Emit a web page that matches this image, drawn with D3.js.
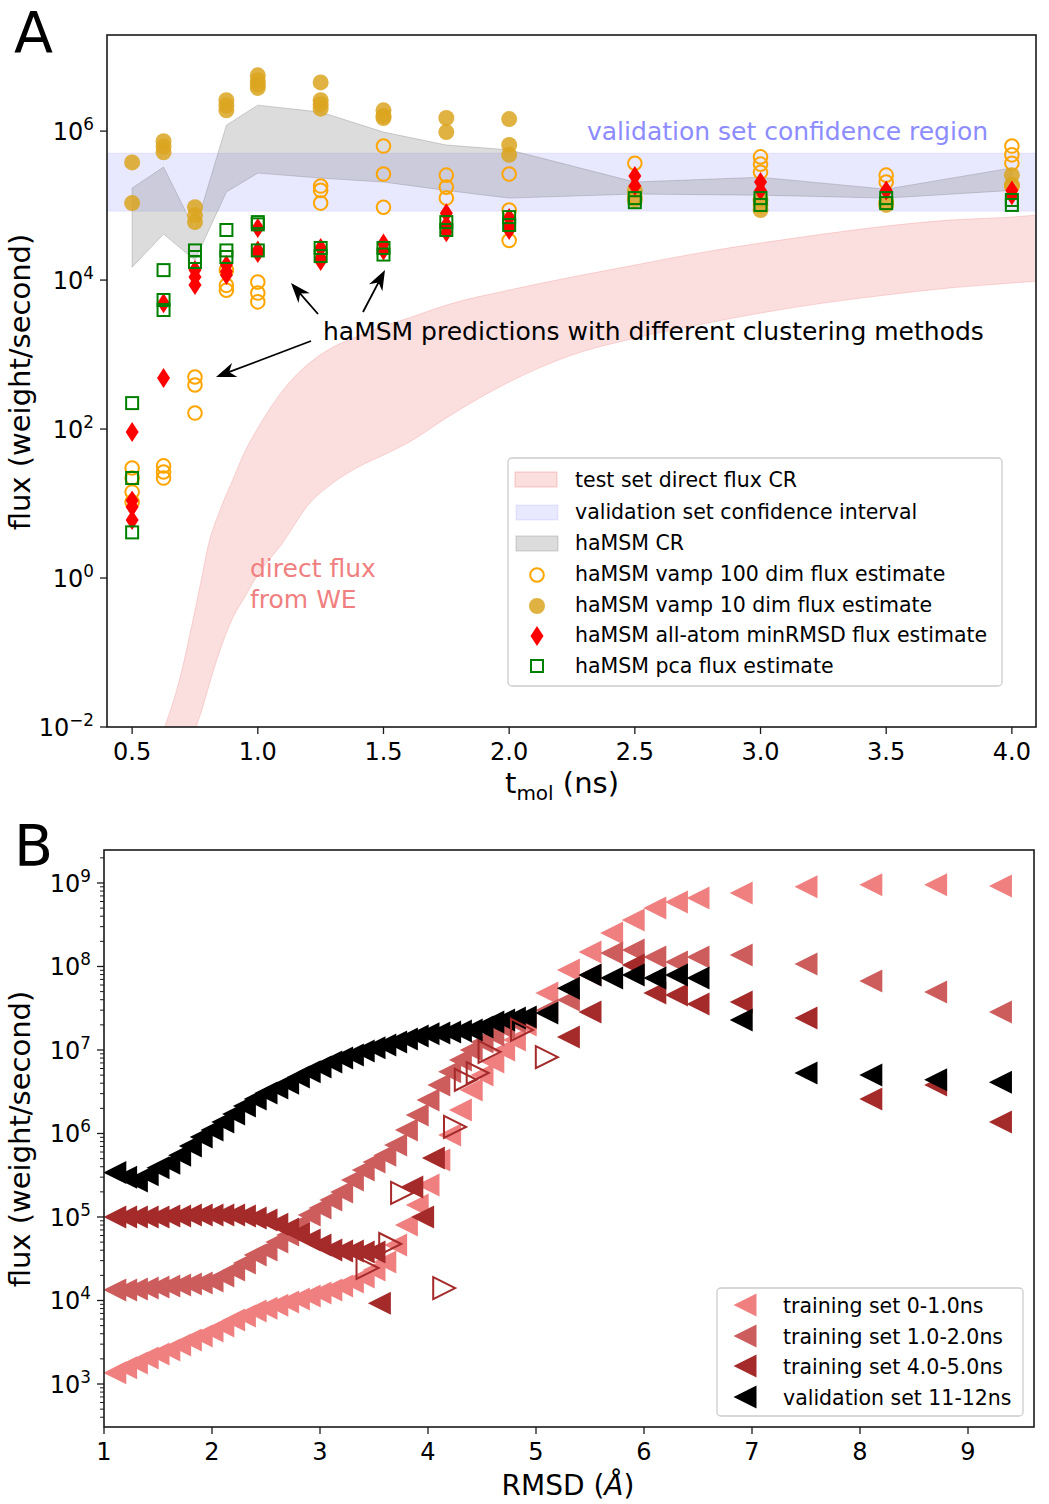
<!DOCTYPE html>
<html><head><meta charset="utf-8">
<script src="https://cdn.jsdelivr.net/npm/d3@7"></script>
<style>body{margin:0;background:#fff} svg{display:block;font-family:"DejaVu Sans",sans-serif}</style>
</head><body><svg id="c" width="1049" height="1504"></svg>
<script>
// ---------------- Panel A data ----------------
const tmolTicks = [0.5,1.0,1.5,2.0,2.5,3.0,3.5,4.0];
const yTicksA = [1e-2,1e0,1e2,1e4,1e6];
// test set direct flux confidence region
const crDirX  = [0.625,0.65,0.675,0.7,0.725,0.75,0.775,0.8,0.85,0.9,0.95,1.0,1.1,1.2,1.3,1.4,1.5,1.6,1.75,2.0,2.25,2.5,2.75,3.0,3.25,3.5,3.75,4.0,4.1];
const crDirHi = [0.0091,0.0159,0.0295,0.062,0.147,0.37,0.94,2.5,8.2,20.7,51,103,333,745,1260,1770,2410,3090,4620,7340,11000,15900,23000,31400,41400,53100,63800,70100,74500];
const crDirLo = [0.001,0.001,0.001,0.001,0.001,0.0078,0.0159,0.031,0.108,0.29,0.57,1.1,3.0,9.5,19,31,44.8,66,141,428,985,1660,2490,3610,4910,6300,7820,9120,9700];
// validation set confidence interval
const valCI = [8.4e4, 5.07e5];
// haMSM confidence region
const hamsmX  = [0.5,0.625,0.75,0.875,1.0,1.25,1.5,1.75,2.0,2.5,3.0,3.5,4.0];
const hamsmHi = [1.72e5,3.29e5,4.7e4,1.2e6,2.23e6,1.8e6,9.7e5,6.5e5,5.6e5,2.07e5,2.4e5,1.66e5,3.2e5];
const hamsmLo = [1.49e4,4.14e4,1.85e4,1.52e5,2.73e5,2.34e5,2.07e5,1.6e5,1.26e5,1.43e5,1.38e5,1.26e5,1.6e5];
// estimates
const vamp100X = [0.5,0.5,0.5,0.5,0.625,0.625,0.625,0.75,0.75,0.75,0.875,0.875,0.875,1.0,1.0,1.0,1.25,1.25,1.25,1.5,1.5,1.5,1.75,1.75,1.75,2.0,2.0,2.0,2.5,2.5,3.0,3.0,3.0,3.0,3.5,3.5,3.5,4.0,4.0,4.0,4.0];
const vamp100Y = [30,22,14.3,10.5,32,26.5,22,500,390,164,1.36e4,8.5e3,7.3e3,9.4e3,6.7e3,5.1e3,1.83e5,1.6e5,1.08e5,6.3e5,2.65e5,9.5e4,2.56e5,1.77e5,1.26e5,2.65e5,8.7e4,3.4e4,3.7e5,1.3e5,4.5e5,3.6e5,2.8e5,1.0e5,2.56e5,2.07e5,1.1e5,6.3e5,4.8e5,3.7e5,1.8e5];
const vamp10X = [0.5,0.5,0.625,0.625,0.625,0.75,0.75,0.75,0.875,0.875,0.875,1.0,1.0,1.0,1.0,1.25,1.25,1.25,1.25,1.5,1.5,1.5,1.75,1.75,2.0,2.0,2.0,2.5,2.5,3.0,3.0,3.5,4.0,4.0];
const vamp10Y = [3.8e5,1.08e5,7.3e5,6.2e5,5.2e5,9.5e4,7.4e4,6.0e4,2.6e6,2.2e6,1.9e6,5.6e6,4.8e6,4.2e6,3.8e6,4.5e6,2.6e6,2.3e6,2.0e6,1.9e6,1.6e6,1.5e6,1.5e6,9.7e5,1.45e6,6.5e5,4.8e5,1.6e5,1.19e5,1.19e5,8.7e4,1.02e5,2.56e5,1.9e5];
const minRmsdX = [0.5,0.5,0.5,0.5,0.625,0.625,0.75,0.75,0.75,0.875,0.875,0.875,1.0,1.0,1.0,1.25,1.25,1.25,1.5,1.5,1.75,1.75,1.75,2.0,2.0,2.0,2.5,2.5,3.0,3.0,3.5,4.0,4.0];
const minRmsdY = [91,11,9,6,4.9e3,484,1.36e4,1.1e4,8.6e3,1.59e4,1.3e4,1.17e4,5e4,2.5e4,2.3e4,2.7e4,1.97e4,1.8e4,3.1e4,2.5e4,7.9e4,5.5e4,4.4e4,6.8e4,5.3e4,4.7e4,2.5e5,1.83e5,2.07e5,1.6e5,1.6e5,1.6e5,1.38e5];
const pcaX = [0.5,0.5,0.5,0.625,0.625,0.625,0.75,0.75,0.75,0.875,0.875,0.875,1.0,1.0,1.0,1.25,1.25,1.5,1.5,1.75,1.75,2.0,2.0,2.5,2.5,3.0,3.0,3.5,3.5,4.0,4.0];
const pcaY = [223,22,4.1,1.36e4,5.4e3,3.96e3,2.5e4,2.04e4,1.75e4,4.7e4,2.5e4,2.04e4,6.0e4,5.6e4,2.5e4,2.7e4,2.1e4,2.7e4,2.2e4,6e4,4.7e4,7e4,5.5e4,1.26e5,1.11e5,1.26e5,1.02e5,1.26e5,1.08e5,1.19e5,1.02e5];

// ---------------- Panel B data ----------------
const rmsdTicks = [1,2,3,4,5,6,7,8,9];
const yTicksB = [1e3,1e4,1e5,1e6,1e7,1e8,1e9];
const train01X = [1.1,1.2,1.3,1.4,1.5,1.6,1.7,1.8,1.9,2.0,2.1,2.2,2.3,2.4,2.5,2.6,2.7,2.8,2.9,3.0,3.1,3.2,3.3,3.4,3.5,3.6,3.7,3.8,3.9,4.0,4.1,4.2,4.3,4.4,4.5,4.6,4.7,4.8,4.9,5.1,5.3,5.5,5.7,5.9,6.1,6.3,6.5,6.9,7.5,8.1,8.7,9.3];
const train01Y = [1.36e3,1.56e3,1.78e3,2.05e3,2.29e3,2.55e3,2.93e3,3.37e3,3.76e3,4.32e3,4.95e3,5.84e3,6.5e3,7.5e3,8.1e3,8.8e3,9.6e3,1.04e4,1.13e4,1.23e4,1.34e4,1.49e4,1.67e4,1.91e4,2.32e4,2.89e4,4.62e4,8.0e4,1.39e5,2.42e5,4.82e5,9.6e5,1.91e6,3.32e6,5.0e6,7.2e6,1.0e7,1.32e7,1.99e7,4.8e7,9.1e7,1.49e8,2.52e8,3.6e8,5.0e8,5.9e8,6.6e8,7.6e8,9.0e8,9.5e8,9.5e8,9.2e8];
const train12X = [1.1,1.2,1.3,1.4,1.5,1.6,1.7,1.8,1.9,2.0,2.1,2.2,2.3,2.4,2.5,2.6,2.7,2.8,2.9,3.0,3.1,3.2,3.3,3.4,3.5,3.6,3.7,3.8,3.9,4.0,4.1,4.2,4.3,4.4,4.5,4.6,4.7,4.8,4.9,5.1,5.3,5.5,5.7,5.9,6.1,6.3,6.5,6.9,7.5,8.1,8.7,9.3];
const train12Y = [1.34e4,1.34e4,1.37e4,1.41e4,1.45e4,1.49e4,1.53e4,1.58e4,1.62e4,1.71e4,1.97e4,2.32e4,2.81e4,3.51e4,4.03e4,5.02e4,6.08e4,8.0e4,1.06e5,1.28e5,1.6e5,1.99e5,2.77e5,3.66e5,4.56e5,5.5e5,7.3e5,1.1e6,1.67e6,2.52e6,3.81e6,5.5e6,7.6e6,1.0e7,1.25e7,1.51e7,1.83e7,2.16e7,2.42e7,3.0e7,3.97e7,7.9e7,1.45e8,1.58e8,1.3e8,1.13e8,1.3e8,1.37e8,1.07e8,6.7e7,4.95e7,2.85e7];
const train45X = [1.1,1.2,1.3,1.4,1.5,1.6,1.7,1.8,1.9,2.0,2.1,2.2,2.3,2.4,2.5,2.6,2.7,2.8,2.9,3.0,3.1,3.2,3.3,3.4,3.5,3.55,3.85,3.95,4.05,5.3,5.5,5.9,6.1,6.3,6.5,6.9,7.5,8.1,8.7,9.3];
const train45Y = [1.0e5,1.0e5,1.0e5,1.0e5,1.0e5,1.03e5,1.03e5,1.06e5,1.06e5,1.06e5,1.06e5,1.06e5,1.03e5,9.7e4,9.2e4,8.2e4,7.2e4,6.3e4,5.3e4,4.62e4,4.03e4,3.92e4,3.92e4,3.81e4,3.81e4,9.3e3,2.29e5,1.0e5,5.1e5,1.43e7,2.85e7,1.04e8,4.8e7,4.56e7,3.56e7,3.76e7,2.42e7,2.59e6,3.81e6,1.37e6];
const train45OpenX = [3.44,3.65,3.76,4.15,4.25,4.35,4.46,4.57,4.87,5.1];
const train45OpenY = [2.45e4,4.75e4,1.94e5,1.41e4,1.2e6,4.4e6,5.3e6,9.5e6,1.74e7,8.2e6];
const valX = [1.1,1.2,1.3,1.4,1.5,1.6,1.7,1.8,1.9,2.0,2.1,2.2,2.3,2.4,2.5,2.6,2.7,2.8,2.9,3.0,3.1,3.2,3.3,3.4,3.5,3.6,3.7,3.8,3.9,4.0,4.1,4.2,4.3,4.4,4.5,4.6,4.7,4.8,4.9,5.1,5.3,5.5,5.7,5.9,6.1,6.3,6.5,6.9,7.5,8.1,8.7,9.3];
const valY = [3.4e5,3.0e5,2.7e5,3.2e5,3.9e5,4.4e5,5.5e5,7.1e5,9.1e5,1.1e6,1.37e6,1.71e6,2.13e6,2.59e6,3.05e6,3.5e6,4.0e6,4.75e6,5.5e6,6.25e6,7.2e6,8.0e6,8.7e6,9.7e6,1.06e7,1.15e7,1.25e7,1.35e7,1.47e7,1.56e7,1.6e7,1.64e7,1.69e7,1.74e7,1.88e7,2.16e7,2.29e7,2.42e7,2.48e7,2.77e7,5.5e7,7.9e7,7.3e7,7.9e7,7.3e7,7.9e7,7.3e7,2.29e7,5.3e6,5.0e6,4.4e6,4.1e6];

// ---------------- Drawing ----------------
const svg = d3.select("#c");
const BLACK = "#1a1a1a";
const zip = (xs, ys) => xs.map((x,i)=>({x, y: ys[i]}));

function supLabel(sel, base, exp, size){
  sel.text(base).append("tspan").attr("dy", -size*0.42).attr("font-size", size*0.7).text(exp);
}
const fmtExp = v => { const e = Math.round(Math.log10(v)); return e<0 ? "\u2212"+(-e) : String(e); };

// ---- Panel A ----
const A = {l:107, r:1036, t:35, b:727};
const xA = d3.scaleLinear().domain([0.4, 4.096]).range([A.l, A.r]);
const yA = d3.scaleLog().domain([1e-2, 1.95e7]).range([A.b, A.t]);
svg.append("clipPath").attr("id","clipA").append("rect").attr("x",A.l).attr("y",A.t).attr("width",A.r-A.l).attr("height",A.b-A.t);
const gA = svg.append("g").attr("clip-path","url(#clipA)");

const pink = "#f08080";
gA.append("path").datum(crDirX.map((x,i)=>({x, lo:crDirLo[i], hi:crDirHi[i]})))
  .attr("d", d3.area().x(d=>xA(d.x)).y0(d=>yA(d.lo)).y1(d=>yA(d.hi)).curve(d3.curveMonotoneX))
  .attr("fill", pink).attr("fill-opacity",0.25).attr("stroke",pink).attr("stroke-opacity",0.3);
gA.append("rect").attr("x",A.l).attr("width",A.r-A.l).attr("y",yA(valCI[1])).attr("height",yA(valCI[0])-yA(valCI[1]))
  .attr("fill","blue").attr("fill-opacity",0.09).attr("stroke","blue").attr("stroke-opacity",0.06);
gA.append("path").datum(hamsmX.map((x,i)=>({x, lo:hamsmLo[i], hi:hamsmHi[i]})))
  .attr("d", d3.area().x(d=>xA(d.x)).y0(d=>yA(d.lo)).y1(d=>yA(d.hi)))
  .attr("fill","gray").attr("fill-opacity",0.28).attr("stroke","gray").attr("stroke-opacity",0.35);

// markers
const diamondPath = "M0,-10 L6.5,0 L0,10 L-6.5,0 Z";
gA.append("g").selectAll("circle").data(zip(vamp100X, vamp100Y)).join("circle")
  .attr("cx",d=>xA(d.x)).attr("cy",d=>yA(d.y)).attr("r",6.8)
  .attr("fill","none").attr("stroke","orange").attr("stroke-width",2);
gA.append("g").selectAll("circle").data(zip(vamp10X, vamp10Y)).join("circle")
  .attr("cx",d=>xA(d.x)).attr("cy",d=>yA(d.y)).attr("r",8)
  .attr("fill","goldenrod").attr("fill-opacity",0.85);
gA.append("g").selectAll("path").data(zip(minRmsdX, minRmsdY)).join("path")
  .attr("transform",d=>`translate(${xA(d.x)},${yA(d.y)})`).attr("d",diamondPath).attr("fill","red");
gA.append("g").selectAll("rect").data(zip(pcaX, pcaY)).join("rect")
  .attr("x",d=>xA(d.x)-6).attr("y",d=>yA(d.y)-6).attr("width",12).attr("height",12)
  .attr("fill","none").attr("stroke","green").attr("stroke-width",2);

// frame & axes A
svg.append("rect").attr("x",A.l).attr("y",A.t).attr("width",A.r-A.l).attr("height",A.b-A.t)
  .attr("fill","none").attr("stroke",BLACK).attr("stroke-width",1.6);
const axA = svg.append("g");
tmolTicks.forEach(t=>{
  axA.append("line").attr("x1",xA(t)).attr("x2",xA(t)).attr("y1",A.b).attr("y2",A.b+7).attr("stroke",BLACK).attr("stroke-width",1.3);
  axA.append("text").attr("x",xA(t)).attr("y",A.b+33).attr("text-anchor","middle").attr("font-size",24).text(t.toFixed(1));
});
yTicksA.forEach(t=>{
  axA.append("line").attr("x1",A.l-7).attr("x2",A.l).attr("y1",yA(t)).attr("y2",yA(t)).attr("stroke",BLACK).attr("stroke-width",1.3);
  axA.append("text").attr("x",A.l-13).attr("y",yA(t)+9).attr("text-anchor","end").attr("font-size",24)
    .call(s=>supLabel(s,"10",fmtExp(t),24));
});
svg.append("text").attr("x",562).attr("y",793).attr("text-anchor","middle").attr("font-size",29)
  .call(s=>{s.append("tspan").text("t"); s.append("tspan").attr("dy",7).attr("font-size",20).text("mol"); s.append("tspan").attr("dy",-7).text(" (ns)");});
svg.append("text").attr("transform","translate(30,382) rotate(-90)").attr("text-anchor","middle").attr("font-size",29).text("flux (weight/second)");
svg.append("text").attr("x",14).attr("y",53).attr("font-size",57).text("A");

// annotations A
svg.append("text").attr("x",587).attr("y",140).attr("font-size",25).attr("fill","#8c8cff").text("validation set confidence region");
svg.append("text").attr("x",250).attr("y",577).attr("font-size",25).attr("fill",pink).text("direct flux");
svg.append("text").attr("x",250).attr("y",608).attr("font-size",25).attr("fill",pink).text("from WE");
svg.append("text").attr("x",323).attr("y",340).attr("font-size",25).text("haMSM predictions with different clustering methods");
function arrow(x1,y1,x2,y2){
  const ang = Math.atan2(y2-y1,x2-x1), L=20, W=7.5;
  svg.append("line").attr("x1",x1).attr("y1",y1).attr("x2",x2-Math.cos(ang)*10).attr("y2",y2-Math.sin(ang)*10).attr("stroke","#000").attr("stroke-width",1.8);
  const c=Math.cos(ang), s=Math.sin(ang);
  const p=(u,v)=>[x2+u*c-v*s, y2+u*s+v*c];
  const pts=[p(0,0),p(-L,-W),p(-L*0.7,0),p(-L,W)];
  svg.append("path").attr("d","M"+pts.map(q=>q.join(",")).join("L")+"Z").attr("fill","#000");
}
arrow(318,314,291,283);
arrow(363,312,385,270);
arrow(311,341,216,377);

// legend A
const legA = svg.append("g");
legA.append("rect").attr("x",508).attr("y",458).attr("width",494).attr("height",228).attr("rx",4)
  .attr("fill","#fff").attr("fill-opacity",0.8).attr("stroke","#cccccc").attr("stroke-width",1.3);
const legAItems = ["test set direct flux CR","validation set confidence interval","haMSM CR","haMSM vamp 100 dim flux estimate","haMSM vamp 10 dim flux estimate","haMSM all-atom minRMSD flux estimate","haMSM pca flux estimate"];
const legAy = [480,512,543,574,605,635,666];
legAItems.forEach((t,i)=>legA.append("text").attr("x",575).attr("y",legAy[i]+7).attr("font-size",20.5).text(t));
legA.append("rect").attr("x",515).attr("y",472).attr("width",42).attr("height",15).attr("fill",pink).attr("fill-opacity",0.25).attr("stroke",pink).attr("stroke-opacity",0.4);
legA.append("rect").attr("x",516).attr("y",505).attr("width",42).attr("height",15).attr("fill","blue").attr("fill-opacity",0.09).attr("stroke","blue").attr("stroke-opacity",0.08);
legA.append("rect").attr("x",516).attr("y",536).attr("width",42).attr("height",15).attr("fill","gray").attr("fill-opacity",0.28).attr("stroke","gray").attr("stroke-opacity",0.35);
legA.append("circle").attr("cx",537).attr("cy",575).attr("r",6.8).attr("fill","none").attr("stroke","orange").attr("stroke-width",2);
legA.append("circle").attr("cx",537).attr("cy",606).attr("r",8).attr("fill","goldenrod").attr("fill-opacity",0.85);
legA.append("path").attr("transform","translate(537,636)").attr("d",diamondPath).attr("fill","red");
legA.append("rect").attr("x",531).attr("y",660).attr("width",12).attr("height",12).attr("fill","none").attr("stroke","green").attr("stroke-width",2);

// ---- Panel B ----
const B = {l:104, r:1034, t:850, b:1427};
const xB = d3.scaleLinear().domain([1, 9.611]).range([B.l, B.r]);
const yB = d3.scaleLog().domain([Math.pow(10,2.485), Math.pow(10,9.395)]).range([B.b, B.t]);
svg.append("clipPath").attr("id","clipB").append("rect").attr("x",B.l).attr("y",B.t).attr("width",B.r-B.l).attr("height",B.b-B.t);
const gB = svg.append("g").attr("clip-path","url(#clipB)");
const triL = "M-11.5,0 L11.5,-11.5 L11.5,11.5 Z";
const triR = "M11,0 L-11,-11 L-11,11 Z";
const seriesB = [
  {x:train01X, y:train01Y, c:"lightcoral"},
  {x:train12X, y:train12Y, c:"indianred"},
  {x:train45X, y:train45Y, c:"brown"},
  {x:valX, y:valY, c:"black"}
];
seriesB.forEach(s=>{
  gB.append("g").selectAll("path").data(zip(s.x,s.y)).join("path")
    .attr("transform",d=>`translate(${xB(d.x)},${yB(d.y)})`).attr("d",triL).attr("fill",s.c);
});
gB.append("g").selectAll("path").data(zip(train45OpenX,train45OpenY)).join("path")
  .attr("transform",d=>`translate(${xB(d.x)},${yB(d.y)})`).attr("d",triR).attr("fill","none").attr("stroke","brown").attr("stroke-width",2);

svg.append("rect").attr("x",B.l).attr("y",B.t).attr("width",B.r-B.l).attr("height",B.b-B.t)
  .attr("fill","none").attr("stroke",BLACK).attr("stroke-width",1.6);
const axB = svg.append("g");
rmsdTicks.forEach(t=>{
  axB.append("line").attr("x1",xB(t)).attr("x2",xB(t)).attr("y1",B.b).attr("y2",B.b+7).attr("stroke",BLACK).attr("stroke-width",1.3);
  axB.append("text").attr("x",xB(t)).attr("y",B.b+33).attr("text-anchor","middle").attr("font-size",24).text(t);
});
yTicksB.forEach(t=>{
  axB.append("line").attr("x1",B.l-7).attr("x2",B.l).attr("y1",yB(t)).attr("y2",yB(t)).attr("stroke",BLACK).attr("stroke-width",1.3);
  axB.append("text").attr("x",B.l-13).attr("y",yB(t)+9).attr("text-anchor","end").attr("font-size",24)
    .call(s=>supLabel(s,"10",fmtExp(t),24));
});
yB.ticks().filter(v=>{const m=v/Math.pow(10,Math.floor(Math.log10(v)+1e-9)); return Math.abs(m-1)>1e-6;}).forEach(v=>{
  if (yB(v)<B.t || yB(v)>B.b) return;
  axB.append("line").attr("x1",B.l-4).attr("x2",B.l).attr("y1",yB(v)).attr("y2",yB(v)).attr("stroke",BLACK).attr("stroke-width",1);
});
svg.append("text").attr("x",568).attr("y",1495).attr("text-anchor","middle").attr("font-size",28)
  .call(s=>{s.append("tspan").text("RMSD ("); s.append("tspan").attr("font-style","italic").text("\u00c5"); s.append("tspan").text(")");});
svg.append("text").attr("transform","translate(30,1139) rotate(-90)").attr("text-anchor","middle").attr("font-size",29).text("flux (weight/second)");
svg.append("text").attr("x",14).attr("y",866).attr("font-size",57).text("B");

// legend B
const legB = svg.append("g");
legB.append("rect").attr("x",717).attr("y",1288).attr("width",306).attr("height",128).attr("rx",4)
  .attr("fill","#fff").attr("fill-opacity",0.8).attr("stroke","#cccccc").attr("stroke-width",1.3);
const legBItems = ["training set 0-1.0ns","training set 1.0-2.0ns","training set 4.0-5.0ns","validation set 11-12ns"];
const legBc = ["lightcoral","indianred","brown","black"];
const legBy = [1305,1336,1366,1397];
legBItems.forEach((t,i)=>{
  legB.append("path").attr("transform",`translate(745,${legBy[i]})`).attr("d",triL).attr("fill",legBc[i]);
  legB.append("text").attr("x",783).attr("y",legBy[i]+8).attr("font-size",20.5).text(t);
});
</script></body></html>
